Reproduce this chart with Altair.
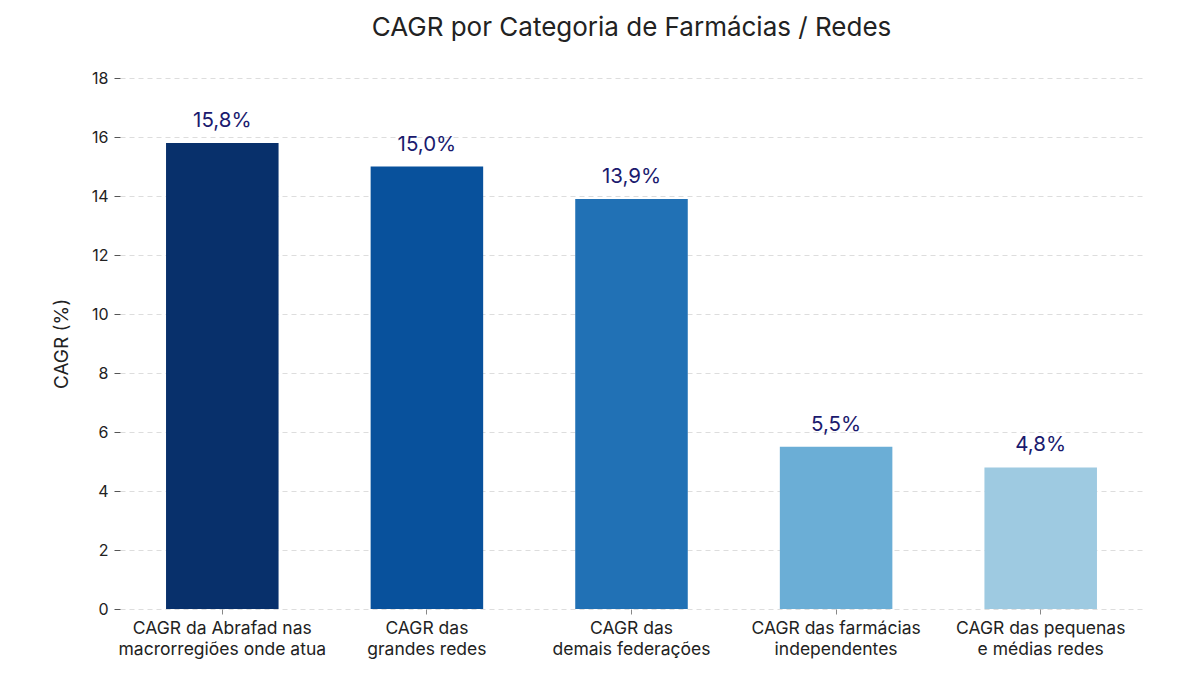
import pandas as pd
import altair as alt

categories = [
    "CAGR da Abrafad nas\nmacrorregiões onde atua",
    "CAGR das\ngrandes redes",
    "CAGR das\ndemais federações",
    "CAGR das farmácias\nindependentes",
    "CAGR das pequenas\ne médias redes",
]
cagr = [15.8, 15.0, 13.9, 5.5, 4.8]
bar_colors = ["#08306b", "#08519c", "#2171b5", "#6baed6", "#9ecae1"]

df = pd.DataFrame({"categoria": categories, "cagr": cagr})

FONT = "Inter"

base = alt.Chart(df).encode(
    x=alt.X(
        "categoria:N",
        sort=categories,
        scale=alt.Scale(paddingInner=0.45, paddingOuter=0.225),
        axis=alt.Axis(
            title=None,
            labelAngle=0,
            labelExpr="split(datum.label, '\\n')",
            labelFontSize=17.5,
            labelColor="#222222",
            labelPadding=5,
            labelLineHeight=21,
            labelLimit=0,
            tickColor="#888888",
            tickSize=5,
            domain=False,
            grid=False,
        ),
    )
)

bars = base.mark_bar().encode(
    y=alt.Y(
        "cagr:Q",
        scale=alt.Scale(domain=[0, 18]),
        axis=alt.Axis(
            title="CAGR (%)",
            titleFontSize=19,
            titleFontWeight="normal",
            titleColor="#222222",
            titlePadding=20,
            values=list(range(0, 19, 2)),
            labelFontSize=16,
            labelColor="#222222",
            labelPadding=6,
            tickColor="#555555",
            tickSize=6,
            domain=False,
            grid=True,
            gridColor="#dddddd",
            gridDash=[5, 4],
        ),
    ),
    color=alt.Color(
        "categoria:N", sort=categories, scale=alt.Scale(domain=categories, range=bar_colors), legend=None
    ),
)

labels = base.transform_calculate(
    rotulo="replace(format(datum.cagr, '.1f'), '.', ',') + '%'"
).mark_text(baseline="bottom", dy=-12, fontSize=20.5, color="#1a1a6e", font=FONT).encode(
    y="cagr:Q", text="rotulo:N"
)

chart = (
    alt.layer(bars, labels)
    .properties(
        width=1023,
        height=531,
        autosize=alt.AutoSizeParams(type="none"),
        padding={"left": 112, "top": 70, "right": 40, "bottom": 60},
        title=alt.TitleParams(
            "CAGR por Categoria de Farmácias / Redes",
            fontSize=26,
            fontWeight="normal",
            color="#222222",
            offset=29,
            anchor="middle",
        ),
    )
    .configure(font=FONT)
    .configure_view(stroke=None)
)

chart.save("out.html", embed_options={"renderer": "svg", "actions": False})
